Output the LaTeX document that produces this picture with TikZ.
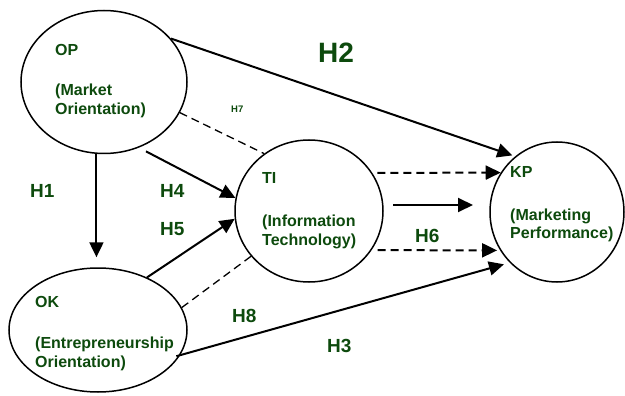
\documentclass[tikz,border=0pt]{standalone}
\usepackage{fontspec}
\setmainfont{Liberation Sans}
\usetikzlibrary{shapes.geometric,arrows.meta}
\definecolor{hgreen}{RGB}{13,74,13}
\begin{document}
\begin{tikzpicture}[x=1pt,y=-1pt,
 ell/.style={ellipse,draw,line width=1.5pt,inner sep=0pt},
 txt/.style={anchor=base west,inner sep=0pt,text=hgreen,font=\bfseries\fontsize{16}{19}\selectfont},
 hyp/.style={anchor=base west,inner sep=0pt,text=hgreen,font=\bfseries\fontsize{19}{23}\selectfont},
 arr/.style={line width=2pt,-{Triangle[length=15pt,width=14pt]}},
 dsh/.style={line width=1.3pt,dash pattern=on 8pt off 5pt},
 darr/.style={line width=2pt,dash pattern=on 8pt off 5pt,-{Triangle[length=15pt,width=14pt]}}]
\useasboundingbox (0,0) rectangle (625,396);
% ellipses
\node[ell,minimum width=166pt,minimum height=143pt] (op) at (104,82) {};
\node[ell,minimum width=178pt,minimum height=124pt] (ok) at (98,330) {};
\node[ell,minimum width=148pt,minimum height=142pt] (ti) at (309,211) {};
\node[ell,minimum width=134pt,minimum height=140pt] (kp) at (557,212) {};
% texts
\node[txt] (op1) at (55,56) {OP};
\node[txt] (op2) at (55,96) {(Market};
\node[txt] (op3) at (55,115) {Orientation)};
\node[txt] (ok1) at (35,307) {OK};
\node[txt] (ok2) at (35,348) {(Entrepreneurship};
\node[txt] (ok3) at (35,367) {Orientation)};
\node[txt] (ti1) at (262,184) {TI};
\node[txt] (ti2) at (262,226) {(Information};
\node[txt] (ti3) at (262,245) {Technology)};
\node[txt] (kp1) at (510,178) {KP};
\node[txt] (kp2) at (510,220) {(Marketing};
\node[txt] (kp3) at (510,239) {Performance)};
% hypothesis labels
\node[hyp,font=\bfseries\fontsize{28}{32}\selectfont] (h2) at (318,63) {H2};
\node[hyp] (h1) at (30,197) {H1};
\node[hyp] (h4) at (160,197) {H4};
\node[hyp] (h5) at (160,235) {H5};
\node[hyp] (h8) at (232,322) {H8};
\node[hyp] (h3) at (327,352) {H3};
\node[hyp] (h6) at (415,243) {H6};
\node[hyp,font=\bfseries\fontsize{9.5}{11}\selectfont] (h7) at (231,113) {H7};
% connectors
\draw[arr,shorten >=3pt] (op.33.7) -- (kp.127);
\draw[dsh] (op.-22) -- (ti.128);
\draw[arr,shorten <=8pt] (op.-62) -- (ti.170);
\draw[arr] (op.-96) -- ([yshift=10pt]ok.north -| op.-96);
\draw[arr] (ok.47) -- (ti.186);
\draw[dsh] (ok.15) -- (ti.218);
\draw[arr,shorten <=-4pt,shorten >=6pt] (ok.-17) -- (kp.227);
\draw[darr,shorten <=5pt] (ti.31) -- (kp.145);
\draw[darr,shorten <=6pt,shorten >=3pt] (ti.-32) -- (kp.214);
\coordinate (m1) at (393,205);
\coordinate (m2) at (473,205);
\draw[arr] (m1) -- (m2);
\end{tikzpicture}
\end{document}
